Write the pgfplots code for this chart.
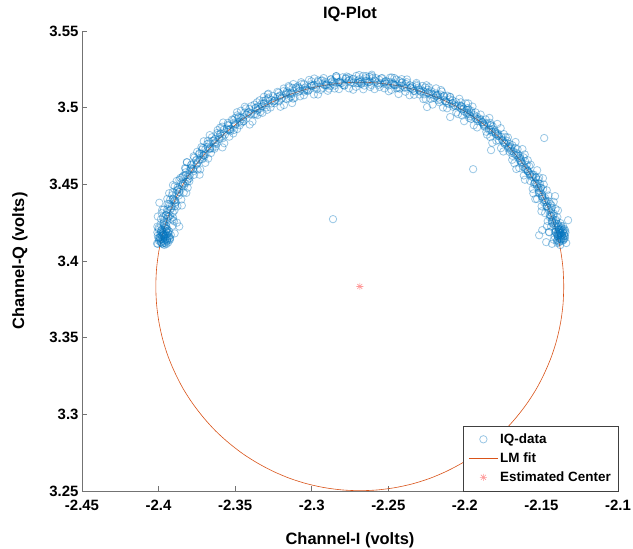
\documentclass[border=0pt]{standalone}
\usepackage{fontspec}
\setmainfont{Liberation Sans}
\usepackage{pgfplots}
\pgfplotsset{compat=1.18}
\definecolor{mblue}{rgb}{0,0.447,0.741}
\definecolor{morange}{rgb}{0.85,0.325,0.098}
\definecolor{axgray}{rgb}{0.45,0.45,0.45}
\pgfdeclareplotmark{mstar}{%
 \pgfpathmoveto{\pgfqpoint{-\pgfplotmarksize}{0pt}}\pgfpathlineto{\pgfqpoint{\pgfplotmarksize}{0pt}}%
 \pgfpathmoveto{\pgfqpoint{0pt}{-\pgfplotmarksize}}\pgfpathlineto{\pgfqpoint{0pt}{\pgfplotmarksize}}%
 \pgfpathmoveto{\pgfqpoint{-0.707\pgfplotmarksize}{-0.707\pgfplotmarksize}}\pgfpathlineto{\pgfqpoint{0.707\pgfplotmarksize}{0.707\pgfplotmarksize}}%
 \pgfpathmoveto{\pgfqpoint{-0.707\pgfplotmarksize}{0.707\pgfplotmarksize}}\pgfpathlineto{\pgfqpoint{0.707\pgfplotmarksize}{-0.707\pgfplotmarksize}}%
 \pgfusepathqstroke}
\begin{document}
\begin{tikzpicture}
\begin{axis}[
 scale only axis, width=536bp, height=460bp,
 xmin=-2.45, xmax=-2.1, ymin=3.25, ymax=3.55,
 axis x line*=bottom, axis y line*=left,
 axis line style={axgray, line width=0.7bp, -},
 tick style={axgray, line width=0.7bp},
 tick align=inside, major tick length=5bp,
 xtick={-2.45,-2.4,-2.35,-2.3,-2.25,-2.2,-2.15,-2.1},
 xticklabels={-2.45,-2.4,-2.35,-2.3,-2.25,-2.2,-2.15,-2.1},
 ytick={3.25,3.3,3.35,3.4,3.45,3.5,3.55},
 yticklabels={3.25,3.3,3.35,3.4,3.45,3.5,3.55},
 ticklabel style={font=\fontsize{15}{18}\selectfont\bfseries, text=black},
 xticklabel style={yshift=-6bp},
 title={IQ-Plot},
 title style={font=\fontsize{16.5}{20}\selectfont\bfseries, at={(axis description cs:0.5,1.0239)}, anchor=center},
 xlabel={Channel-I (volts)},
 xlabel style={font=\fontsize{16.5}{20}\selectfont\bfseries, at={(axis description cs:0.5,-0.1065)}, anchor=center},
 ylabel={Channel-Q (volts)},
 ylabel style={font=\fontsize{16.5}{20}\selectfont\bfseries, at={(axis description cs:-0.1157,0.5)}, anchor=center},
 legend style={at={(axis description cs:1,0)}, anchor=south east, draw=black!75, fill=white,
   font=\fontsize{13.5}{16}\selectfont\bfseries, inner xsep=5bp, inner ysep=4bp, row sep=0bp,
   nodes={inner sep=2bp, text height=11.5bp, text depth=3.5bp}},
 legend cell align=left,
 legend image code/.code={\draw[mark repeat=2,mark phase=2,#1] plot coordinates {(0bp,0bp) (14.5bp,0bp) (29bp,0bp)};},
 clip=true,
]
% IQ-data
\addplot[only marks, mark=o, mark size=3.7bp, draw=mblue, draw opacity=0.4, line width=0.8bp] coordinates {
(-2.1370,3.4140) (-2.1396,3.4118) (-2.1377,3.4104) (-2.1386,3.4147)
(-2.1407,3.4190) (-2.1376,3.4182) (-2.1396,3.4166) (-2.1386,3.4207)
(-2.1405,3.4229) (-2.1431,3.4256) (-2.1388,3.4226) (-2.1412,3.4247)
(-2.1419,3.4308) (-2.1445,3.4286) (-2.1426,3.4272) (-2.1435,3.4315)
(-2.1463,3.4356) (-2.1432,3.4348) (-2.1452,3.4332) (-2.1442,3.4373)
(-2.1469,3.4392) (-2.1495,3.4419) (-2.1452,3.4389) (-2.1476,3.4410)
(-2.1489,3.4469) (-2.1515,3.4447) (-2.1496,3.4433) (-2.1505,3.4476)
(-2.1541,3.4513) (-2.1510,3.4505) (-2.1530,3.4489) (-2.1520,3.4530)
(-2.1553,3.4546) (-2.1579,3.4573) (-2.1536,3.4543) (-2.1560,3.4564)
(-2.1580,3.4619) (-2.1606,3.4597) (-2.1587,3.4583) (-2.1596,3.4626)
(-2.1638,3.4659) (-2.1607,3.4651) (-2.1627,3.4635) (-2.1617,3.4676)
(-2.1657,3.4687) (-2.1683,3.4714) (-2.1640,3.4684) (-2.1664,3.4705)
(-2.1690,3.4755) (-2.1716,3.4733) (-2.1697,3.4719) (-2.1706,3.4762)
(-2.1754,3.4791) (-2.1723,3.4783) (-2.1743,3.4767) (-2.1733,3.4808)
(-2.1778,3.4814) (-2.1804,3.4841) (-2.1761,3.4811) (-2.1785,3.4832)
(-2.1817,3.4877) (-2.1843,3.4855) (-2.1824,3.4841) (-2.1833,3.4884)
(-2.1885,3.4906) (-2.1854,3.4898) (-2.1874,3.4882) (-2.1864,3.4923)
(-2.1914,3.4924) (-2.1940,3.4951) (-2.1897,3.4921) (-2.1921,3.4942)
(-2.1958,3.4980) (-2.1984,3.4958) (-2.1965,3.4944) (-2.1974,3.4987)
(-2.2019,3.5006) (-2.1981,3.4997) (-2.2005,3.4976) (-2.1993,3.5028)
(-2.2048,3.5013) (-2.2080,3.5047) (-2.2026,3.5010) (-2.2057,3.5036)
(-2.2095,3.5069) (-2.2127,3.5042) (-2.2103,3.5024) (-2.2115,3.5078)
(-2.2176,3.5083) (-2.2138,3.5074) (-2.2162,3.5053) (-2.2150,3.5105)
(-2.2209,3.5083) (-2.2241,3.5117) (-2.2187,3.5080) (-2.2218,3.5106)
(-2.2258,3.5132) (-2.2290,3.5105) (-2.2266,3.5087) (-2.2278,3.5141)
(-2.2342,3.5139) (-2.2304,3.5130) (-2.2328,3.5109) (-2.2316,3.5161)
(-2.2377,3.5132) (-2.2409,3.5166) (-2.2355,3.5129) (-2.2386,3.5155)
(-2.2428,3.5174) (-2.2460,3.5147) (-2.2436,3.5129) (-2.2448,3.5183)
(-2.2514,3.5174) (-2.2476,3.5165) (-2.2500,3.5144) (-2.2488,3.5196)
(-2.2550,3.5159) (-2.2582,3.5193) (-2.2528,3.5156) (-2.2559,3.5182)
(-2.2603,3.5193) (-2.2635,3.5166) (-2.2611,3.5148) (-2.2623,3.5202)
(-2.2689,3.5185) (-2.2651,3.5176) (-2.2675,3.5155) (-2.2663,3.5207)
(-2.2726,3.5163) (-2.2758,3.5197) (-2.2704,3.5160) (-2.2735,3.5186)
(-2.2778,3.5189) (-2.2810,3.5162) (-2.2786,3.5144) (-2.2798,3.5198)
(-2.2864,3.5174) (-2.2826,3.5165) (-2.2850,3.5144) (-2.2838,3.5196)
(-2.2900,3.5144) (-2.2932,3.5178) (-2.2878,3.5141) (-2.2909,3.5167)
(-2.2957,3.5178) (-2.2999,3.5143) (-2.2968,3.5120) (-2.2983,3.5190)
(-2.3051,3.5153) (-2.3001,3.5141) (-2.3033,3.5114) (-2.3017,3.5181)
(-2.3078,3.5109) (-2.3120,3.5154) (-2.3050,3.5105) (-2.3090,3.5139)
(-2.3125,3.5129) (-2.3167,3.5094) (-2.3136,3.5071) (-2.3151,3.5141)
(-2.3217,3.5097) (-2.3167,3.5085) (-2.3199,3.5058) (-2.3183,3.5125)
(-2.3241,3.5046) (-2.3283,3.5091) (-2.3213,3.5042) (-2.3253,3.5076)
(-2.3286,3.5059) (-2.3328,3.5024) (-2.3297,3.5001) (-2.3312,3.5071)
(-2.3374,3.5020) (-2.3324,3.5008) (-2.3356,3.4981) (-2.3340,3.5048)
(-2.3395,3.4961) (-2.3437,3.5006) (-2.3367,3.4957) (-2.3407,3.4991)
(-2.3436,3.4968) (-2.3478,3.4933) (-2.3447,3.4910) (-2.3462,3.4980)
(-2.3520,3.4922) (-2.3470,3.4910) (-2.3502,3.4883) (-2.3486,3.4950)
(-2.3536,3.4858) (-2.3578,3.4903) (-2.3508,3.4854) (-2.3548,3.4888)
(-2.3572,3.4858) (-2.3614,3.4823) (-2.3583,3.4800) (-2.3598,3.4870)
(-2.3651,3.4807) (-2.3601,3.4795) (-2.3633,3.4768) (-2.3617,3.4835)
(-2.3663,3.4736) (-2.3705,3.4781) (-2.3635,3.4732) (-2.3675,3.4766)
(-2.3694,3.4731) (-2.3736,3.4696) (-2.3705,3.4673) (-2.3720,3.4743)
(-2.3767,3.4675) (-2.3717,3.4663) (-2.3749,3.4636) (-2.3733,3.4703)
(-2.3773,3.4600) (-2.3815,3.4645) (-2.3745,3.4596) (-2.3785,3.4630)
(-2.3797,3.4590) (-2.3839,3.4555) (-2.3808,3.4532) (-2.3823,3.4602)
(-2.3864,3.4529) (-2.3814,3.4517) (-2.3846,3.4490) (-2.3830,3.4557)
(-2.3864,3.4450) (-2.3906,3.4495) (-2.3836,3.4446) (-2.3876,3.4480)
(-2.3882,3.4436) (-2.3924,3.4401) (-2.3893,3.4378) (-2.3908,3.4448)
(-2.3942,3.4372) (-2.3892,3.4360) (-2.3924,3.4333) (-2.3908,3.4400)
(-2.3934,3.4289) (-2.3976,3.4334) (-2.3906,3.4285) (-2.3946,3.4319)
(-2.3945,3.4273) (-2.3987,3.4238) (-2.3956,3.4215) (-2.3971,3.4285)
(-2.3998,3.4206) (-2.3948,3.4194) (-2.3980,3.4167) (-2.3964,3.4234)
(-2.3983,3.4121) (-2.4005,3.4166) (-2.3955,3.4117) (-2.3995,3.4151)
(-2.3962,3.4158) (-2.3948,3.4172) (-2.3975,3.4185) (-2.3958,3.4141)
(-2.3940,3.4150) (-2.3969,3.4129) (-2.3952,3.4196) (-2.3981,3.4162)
(-2.3935,3.4183) (-2.3944,3.4130) (-2.3972,3.4145) (-2.3957,3.4176)
(-2.3965,3.4118) (-2.3930,3.4160) (-2.3988,3.4175) (-2.3950,3.4110)
(-2.3978,3.4205) (-2.3943,3.4208) (-2.3960,3.4222) (-2.3926,3.4138)
(-2.3985,3.4140) (-2.3955,3.4165) (-2.3946,3.4143) (-2.3968,3.4190)
(-2.3938,3.4120) (-2.3975,3.4112) (-2.3932,3.4195) (-2.3963,3.4105)
(-2.3992,3.4155) (-2.3950,3.4228) (-2.3920,3.4170) (-2.3983,3.4198)
(-2.3958,3.4135) (-2.3941,3.4163) (-2.3970,3.4168) (-2.3925,3.4150)
(-2.3995,3.4380) (-2.4005,3.4290) (-2.3900,3.4260) (-2.3895,3.4180)
(-2.3865,3.4225) (-2.3880,3.4250)
(-2.1372,3.4180) (-2.1360,3.4195) (-2.1385,3.4170) (-2.1365,3.4160)
(-2.1352,3.4178) (-2.1378,3.4205) (-2.1390,3.4190) (-2.1358,3.4150)
(-2.1368,3.4215) (-2.1380,3.4145) (-2.1348,3.4165) (-2.1395,3.4220)
(-2.1362,3.4188) (-2.1375,3.4158) (-2.1345,3.4198) (-2.1388,3.4235)
(-2.1355,3.4138) (-2.1370,3.4228) (-2.1383,3.4182) (-2.1366,3.4172)
(-2.1350,3.4208) (-2.1392,3.4155) (-2.1373,3.4142) (-2.1358,3.4226)
(-2.1400,3.4245) (-2.1343,3.4185) (-2.1377,3.4195) (-2.1362,3.4132)
(-2.1386,3.4200) (-2.1369,3.4165) (-2.1405,3.4260) (-2.1357,3.4202)
(-2.1381,3.4128) (-2.1346,3.4150) (-2.1394,3.4175)
(-2.2861,3.4273) (-2.1482,3.4802) (-2.1946,3.4599) (-2.1829,3.4723)
(-2.1411,3.4423) (-2.1326,3.4266) (-2.1515,3.4168) (-2.1495,3.4201)
(-2.1469,3.4123) (-2.2096,3.4939) (-2.2247,3.5004) (-2.3128,3.5030)
(-2.1351,3.4164) (-2.1431,3.4112) (-2.1414,3.4160) (-2.1338,3.4117) (-2.1396,3.4137)
(-2.1437,3.4224) (-2.1374,3.4209) (-2.1419,3.4139) (-2.1354,3.4144) (-2.1449,3.4187) (-2.1394,3.4167)
(-2.1396,3.4285) (-2.1451,3.4190) (-2.1376,3.4247) (-2.1431,3.4263) (-2.1406,3.4205) (-2.1464,3.4227)
(-2.1459,3.4260) (-2.1392,3.4330) (-2.1439,3.4337) (-2.1404,3.4268) (-2.1476,3.4312) (-2.1422,3.4295)
(-2.1420,3.4386) (-2.1500,3.4324) (-2.1440,3.4296) (-2.1483,3.4382) (-2.1407,3.4339) (-2.1465,3.4359)
(-2.1517,3.4442) (-2.1454,3.4427) (-2.1499,3.4357) (-2.1434,3.4362) (-2.1529,3.4405) (-2.1474,3.4385)
(-2.1485,3.4499) (-2.1540,3.4404) (-2.1465,3.4461) (-2.1520,3.4477) (-2.1495,3.4419) (-2.1553,3.4441)
(-2.1557,3.4470) (-2.1490,3.4540) (-2.1537,3.4547) (-2.1502,3.4478) (-2.1574,3.4522) (-2.1520,3.4505)
(-2.1528,3.4592) (-2.1608,3.4530) (-2.1548,3.4502) (-2.1591,3.4588) (-2.1515,3.4545) (-2.1573,3.4565)
(-2.1633,3.4643) (-2.1570,3.4628) (-2.1615,3.4558) (-2.1550,3.4563) (-2.1645,3.4606) (-2.1590,3.4586)
(-2.1609,3.4695) (-2.1664,3.4600) (-2.1589,3.4657) (-2.1644,3.4673) (-2.1619,3.4615) (-2.1677,3.4637)
(-2.1691,3.4660) (-2.1624,3.4730) (-2.1671,3.4737) (-2.1636,3.4668) (-2.1708,3.4712) (-2.1654,3.4695)
(-2.1669,3.4776) (-2.1749,3.4714) (-2.1689,3.4686) (-2.1732,3.4772) (-2.1656,3.4729) (-2.1714,3.4749)
(-2.1782,3.4821) (-2.1719,3.4806) (-2.1764,3.4736) (-2.1699,3.4741) (-2.1794,3.4784) (-2.1739,3.4764)
(-2.1766,3.4866) (-2.1821,3.4771) (-2.1746,3.4828) (-2.1801,3.4844) (-2.1776,3.4786) (-2.1834,3.4808)
(-2.1855,3.4824) (-2.1788,3.4894) (-2.1835,3.4901) (-2.1800,3.4832) (-2.1872,3.4876) (-2.1818,3.4859)
(-2.1840,3.4933) (-2.1920,3.4871) (-2.1860,3.4843) (-2.1903,3.4929) (-2.1827,3.4886) (-2.1885,3.4906)
(-2.1960,3.4970) (-2.1897,3.4955) (-2.1942,3.4885) (-2.1877,3.4890) (-2.1972,3.4933) (-2.1917,3.4913)
(-2.1950,3.5007) (-2.2005,3.4912) (-2.1930,3.4969) (-2.1985,3.4985) (-2.1960,3.4927) (-2.2018,3.4949)
(-2.2045,3.4958) (-2.1978,3.5028) (-2.2025,3.5035) (-2.1990,3.4966) (-2.2062,3.5010) (-2.2008,3.4993)
(-2.2036,3.5058) (-2.2116,3.4996) (-2.2056,3.4968) (-2.2099,3.5054) (-2.2023,3.5011) (-2.2081,3.5031)
(-2.2161,3.5086) (-2.2098,3.5071) (-2.2143,3.5001) (-2.2078,3.5006) (-2.2173,3.5049) (-2.2118,3.5029)
(-2.2156,3.5115) (-2.2211,3.5020) (-2.2136,3.5077) (-2.2191,3.5093) (-2.2166,3.5035) (-2.2224,3.5057)
(-2.2255,3.5056) (-2.2188,3.5126) (-2.2235,3.5133) (-2.2200,3.5064) (-2.2272,3.5108) (-2.2218,3.5091)
(-2.2251,3.5146) (-2.2331,3.5084) (-2.2271,3.5056) (-2.2314,3.5142) (-2.2238,3.5099) (-2.2296,3.5119)
(-2.2379,3.5166) (-2.2316,3.5151) (-2.2361,3.5081) (-2.2296,3.5086) (-2.2391,3.5129) (-2.2336,3.5109)
(-2.2378,3.5184) (-2.2433,3.5089) (-2.2358,3.5146) (-2.2413,3.5162) (-2.2388,3.5104) (-2.2446,3.5126)
(-2.2480,3.5116) (-2.2413,3.5186) (-2.2460,3.5193) (-2.2425,3.5124) (-2.2497,3.5168) (-2.2443,3.5151)
(-2.2477,3.5197) (-2.2557,3.5135) (-2.2497,3.5107) (-2.2540,3.5193) (-2.2464,3.5150) (-2.2522,3.5170)
(-2.2608,3.5206) (-2.2545,3.5191) (-2.2590,3.5121) (-2.2525,3.5126) (-2.2620,3.5169) (-2.2565,3.5149)
(-2.2608,3.5215) (-2.2663,3.5120) (-2.2588,3.5177) (-2.2643,3.5193) (-2.2618,3.5135) (-2.2676,3.5157)
(-2.2711,3.5136) (-2.2644,3.5206) (-2.2691,3.5213) (-2.2656,3.5144) (-2.2728,3.5188) (-2.2674,3.5171)
(-2.2709,3.5207) (-2.2789,3.5145) (-2.2729,3.5117) (-2.2772,3.5203) (-2.2696,3.5160) (-2.2754,3.5180)
(-2.2840,3.5206) (-2.2777,3.5191) (-2.2822,3.5121) (-2.2757,3.5126) (-2.2852,3.5169) (-2.2797,3.5149)
(-2.2840,3.5205) (-2.2895,3.5110) (-2.2820,3.5167) (-2.2875,3.5183) (-2.2850,3.5125) (-2.2908,3.5147)
(-2.2942,3.5116) (-2.2875,3.5186) (-2.2922,3.5193) (-2.2887,3.5124) (-2.2959,3.5168) (-2.2905,3.5151)
(-2.2939,3.5176) (-2.3019,3.5114) (-2.2959,3.5086) (-2.3002,3.5172) (-2.2926,3.5129) (-2.2984,3.5149)
(-2.3069,3.5166) (-2.3006,3.5151) (-2.3051,3.5081) (-2.2986,3.5086) (-2.3081,3.5129) (-2.3026,3.5109)
(-2.3066,3.5154) (-2.3121,3.5059) (-2.3046,3.5116) (-2.3101,3.5132) (-2.3076,3.5074) (-2.3134,3.5096)
(-2.3167,3.5056) (-2.3100,3.5126) (-2.3147,3.5133) (-2.3112,3.5064) (-2.3184,3.5108) (-2.3130,3.5091)
(-2.3161,3.5107) (-2.3241,3.5045) (-2.3181,3.5017) (-2.3224,3.5103) (-2.3148,3.5060) (-2.3206,3.5080)
(-2.3287,3.5086) (-2.3224,3.5071) (-2.3269,3.5001) (-2.3204,3.5006) (-2.3299,3.5049) (-2.3244,3.5029)
(-2.3281,3.5066) (-2.3336,3.4971) (-2.3261,3.5028) (-2.3316,3.5044) (-2.3291,3.4986) (-2.3349,3.5008)
(-2.3377,3.4958) (-2.3310,3.5028) (-2.3357,3.5035) (-2.3322,3.4966) (-2.3394,3.5010) (-2.3340,3.4993)
(-2.3367,3.4999) (-2.3447,3.4937) (-2.3387,3.4909) (-2.3430,3.4995) (-2.3354,3.4952) (-2.3412,3.4972)
(-2.3488,3.4970) (-2.3425,3.4955) (-2.3470,3.4885) (-2.3405,3.4890) (-2.3500,3.4933) (-2.3445,3.4913)
(-2.3477,3.4941) (-2.3532,3.4846) (-2.3457,3.4903) (-2.3512,3.4919) (-2.3487,3.4861) (-2.3545,3.4883)
(-2.3567,3.4824) (-2.3500,3.4894) (-2.3547,3.4901) (-2.3512,3.4832) (-2.3584,3.4876) (-2.3530,3.4859)
(-2.3551,3.4858) (-2.3631,3.4796) (-2.3571,3.4768) (-2.3614,3.4854) (-2.3538,3.4811) (-2.3596,3.4831)
(-2.3666,3.4821) (-2.3603,3.4806) (-2.3648,3.4736) (-2.3583,3.4741) (-2.3678,3.4784) (-2.3623,3.4764)
(-2.3648,3.4784) (-2.3703,3.4689) (-2.3628,3.4746) (-2.3683,3.4762) (-2.3658,3.4704) (-2.3716,3.4726)
(-2.3731,3.4660) (-2.3664,3.4730) (-2.3711,3.4737) (-2.3676,3.4668) (-2.3748,3.4712) (-2.3694,3.4695)
(-2.3708,3.4687) (-2.3788,3.4625) (-2.3728,3.4597) (-2.3771,3.4683) (-2.3695,3.4640) (-2.3753,3.4660)
(-2.3815,3.4643) (-2.3752,3.4628) (-2.3797,3.4558) (-2.3732,3.4563) (-2.3827,3.4606) (-2.3772,3.4586)
(-2.3789,3.4600) (-2.3844,3.4505) (-2.3769,3.4562) (-2.3824,3.4578) (-2.3799,3.4520) (-2.3857,3.4542)
(-2.3865,3.4470) (-2.3798,3.4540) (-2.3845,3.4547) (-2.3810,3.4478) (-2.3882,3.4522) (-2.3828,3.4505)
(-2.3832,3.4491) (-2.3912,3.4429) (-2.3852,3.4401) (-2.3895,3.4487) (-2.3819,3.4444) (-2.3877,3.4464)
(-2.3931,3.4442) (-2.3868,3.4427) (-2.3913,3.4357) (-2.3848,3.4362) (-2.3943,3.4405) (-2.3888,3.4385)
(-2.3897,3.4394) (-2.3952,3.4299) (-2.3877,3.4356) (-2.3932,3.4372) (-2.3907,3.4314) (-2.3965,3.4336)
(-2.3963,3.4260) (-2.3896,3.4330) (-2.3943,3.4337) (-2.3908,3.4268) (-2.3980,3.4312) (-2.3926,3.4295)
(-2.3921,3.4277) (-2.4001,3.4215) (-2.3941,3.4187) (-2.3984,3.4273) (-2.3908,3.4230) (-2.3966,3.4250)
(-2.4008,3.4224) (-2.3948,3.4209) (-2.3993,3.4139) (-2.3928,3.4144) (-2.4008,3.4187) (-2.3968,3.4167)
(-2.3966,3.4172) (-2.4005,3.4112) (-2.3946,3.4134) (-2.4001,3.4150) (-2.3976,3.4115) (-2.4010,3.4114)
(-2.1386,3.4122) (-2.1399,3.4179) (-2.1416,3.4235) (-2.1434,3.4290) (-2.1455,3.4344) (-2.1479,3.4397)
(-2.1505,3.4449) (-2.1532,3.4500) (-2.1563,3.4550) (-2.1595,3.4598) (-2.1629,3.4645) (-2.1666,3.4690)
(-2.1704,3.4734) (-2.1744,3.4776) (-2.1786,3.4816) (-2.1830,3.4854) (-2.1875,3.4891) (-2.1922,3.4925)
(-2.1970,3.4957) (-2.2020,3.4988) (-2.2071,3.5016) (-2.2123,3.5041) (-2.2176,3.5065) (-2.2230,3.5086)
(-2.2286,3.5104) (-2.2341,3.5121) (-2.2398,3.5134) (-2.2455,3.5146) (-2.2512,3.5155) (-2.2570,3.5161)
(-2.2628,3.5165) (-2.2686,3.5166) (-2.2744,3.5165) (-2.2802,3.5161) (-2.2860,3.5155) (-2.2917,3.5146)
(-2.2974,3.5134) (-2.3031,3.5121) (-2.3086,3.5104) (-2.3142,3.5086) (-2.3196,3.5065) (-2.3249,3.5041)
(-2.3301,3.5016) (-2.3352,3.4988) (-2.3402,3.4957) (-2.3450,3.4925) (-2.3497,3.4891) (-2.3542,3.4854)
(-2.3586,3.4816) (-2.3628,3.4776) (-2.3668,3.4734) (-2.3706,3.4690) (-2.3743,3.4645) (-2.3777,3.4598)
(-2.3809,3.4550) (-2.3840,3.4500) (-2.3867,3.4449) (-2.3893,3.4397) (-2.3917,3.4344) (-2.3938,3.4290)
(-2.3956,3.4235) (-2.3973,3.4179) (-2.3986,3.4122)
(-2.1398,3.4132) (-2.1411,3.4189) (-2.1428,3.4245) (-2.1446,3.4300) (-2.1467,3.4354) (-2.1491,3.4407)
(-2.1517,3.4459) (-2.1544,3.4510) (-2.1575,3.4560) (-2.1607,3.4608) (-2.1641,3.4655) (-2.1678,3.4700)
(-2.1716,3.4744) (-2.1756,3.4786) (-2.1798,3.4826) (-2.1842,3.4864) (-2.1887,3.4901) (-2.1934,3.4935)
(-2.1982,3.4967) (-2.2032,3.4998) (-2.2083,3.5026) (-2.2135,3.5051) (-2.2188,3.5075) (-2.2242,3.5096)
(-2.2298,3.5114) (-2.2353,3.5131) (-2.2410,3.5144) (-2.2467,3.5156) (-2.2524,3.5165) (-2.2582,3.5171)
(-2.2640,3.5175) (-2.2698,3.5176) (-2.2756,3.5175) (-2.2814,3.5171) (-2.2872,3.5165) (-2.2929,3.5156)
(-2.2986,3.5144) (-2.3043,3.5131) (-2.3098,3.5114) (-2.3154,3.5096) (-2.3208,3.5075) (-2.3261,3.5051)
(-2.3313,3.5026) (-2.3364,3.4998) (-2.3414,3.4967) (-2.3462,3.4935) (-2.3509,3.4901) (-2.3554,3.4864)
(-2.3598,3.4826) (-2.3640,3.4786) (-2.3680,3.4744) (-2.3718,3.4700) (-2.3755,3.4655) (-2.3789,3.4608)
(-2.3821,3.4560) (-2.3852,3.4510) (-2.3879,3.4459) (-2.3905,3.4407) (-2.3929,3.4354) (-2.3950,3.4300)
(-2.3968,3.4245) (-2.3985,3.4189) (-2.3998,3.4132)
};
% LM fit
\addplot[morange, line width=0.6bp, smooth] coordinates {
(-2.1354,3.3834) (-2.1359,3.3950) (-2.1374,3.4065) (-2.1399,3.4179)
(-2.1434,3.4290) (-2.1479,3.4397) (-2.1532,3.4500) (-2.1595,3.4598)
(-2.1666,3.4690) (-2.1744,3.4776) (-2.1830,3.4854) (-2.1922,3.4925)
(-2.2020,3.4988) (-2.2123,3.5041) (-2.2230,3.5086) (-2.2341,3.5121)
(-2.2455,3.5146) (-2.2570,3.5161) (-2.2686,3.5166) (-2.2802,3.5161)
(-2.2917,3.5146) (-2.3031,3.5121) (-2.3142,3.5086) (-2.3249,3.5041)
(-2.3352,3.4988) (-2.3450,3.4925) (-2.3542,3.4854) (-2.3628,3.4776)
(-2.3706,3.4690) (-2.3777,3.4598) (-2.3840,3.4500) (-2.3893,3.4397)
(-2.3938,3.4290) (-2.3973,3.4179) (-2.3998,3.4065) (-2.4013,3.3950)
(-2.4018,3.3834) (-2.4013,3.3718) (-2.3998,3.3603) (-2.3973,3.3489)
(-2.3938,3.3378) (-2.3893,3.3271) (-2.3840,3.3168) (-2.3777,3.3070)
(-2.3706,3.2978) (-2.3628,3.2892) (-2.3542,3.2814) (-2.3450,3.2743)
(-2.3352,3.2681) (-2.3249,3.2627) (-2.3142,3.2582) (-2.3031,3.2547)
(-2.2917,3.2522) (-2.2802,3.2507) (-2.2686,3.2502) (-2.2570,3.2507)
(-2.2455,3.2522) (-2.2341,3.2547) (-2.2230,3.2582) (-2.2123,3.2627)
(-2.2020,3.2681) (-2.1922,3.2743) (-2.1830,3.2814) (-2.1744,3.2892)
(-2.1666,3.2978) (-2.1595,3.3070) (-2.1532,3.3168) (-2.1479,3.3271)
(-2.1434,3.3378) (-2.1399,3.3489) (-2.1374,3.3603) (-2.1359,3.3718)
(-2.1354,3.3834)
};
% Estimated Center
\addplot[only marks, mark=mstar, mark size=3.5bp, draw=red, draw opacity=0.4, line width=0.6bp] coordinates {(-2.2686,3.3834)};
\legend{IQ-data, LM fit, Estimated Center}
\end{axis}
\pgfresetboundingbox
\path[use as bounding box] ([shift={(-82bp,-58bp)}]current axis.south west) rectangle ++(633bp,549bp);
\end{tikzpicture}
\end{document}
